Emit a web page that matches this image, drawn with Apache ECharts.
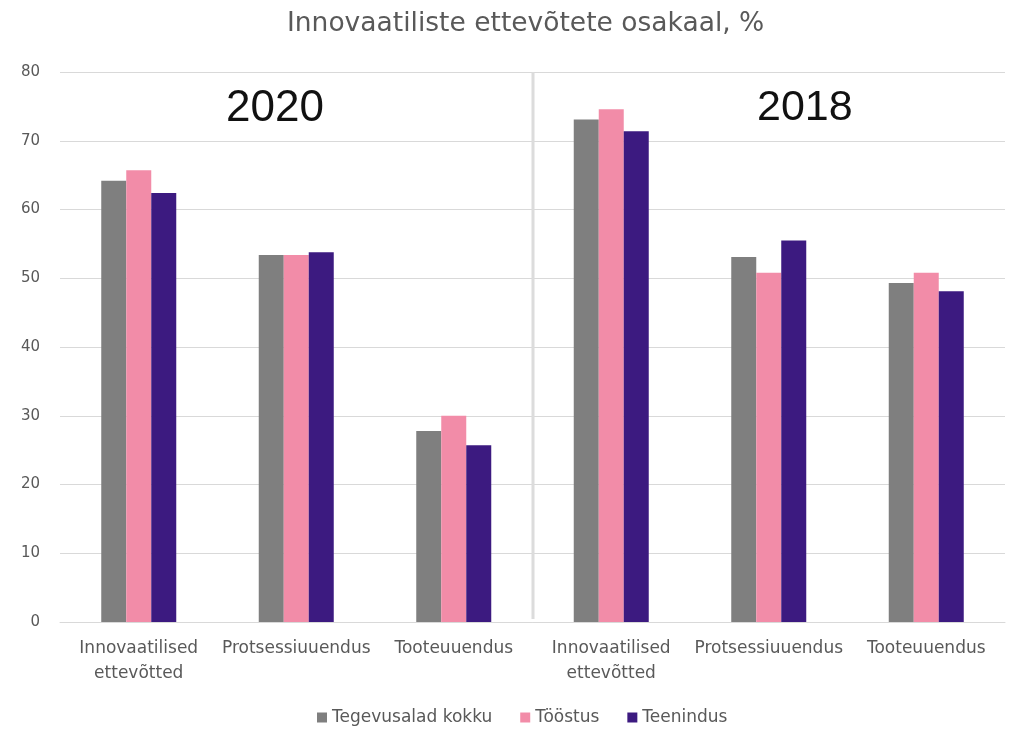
<!DOCTYPE html>
<html>
<head>
<meta charset="utf-8">
<script src="https://cdn.jsdelivr.net/npm/echarts@6/dist/echarts.min.js"></script>
<style>html,body{margin:0;padding:0;background:#fff}#c{width:1012px;height:734px}</style>
</head>
<body>
<div id="c"></div>
<script>
var categories = ['Innovaatilised\nettevõtted', 'Protsessiuuendus', 'Tooteuuendus', 'Innovaatilised\nettevõtted', 'Protsessiuuendus', 'Tooteuuendus'];
var seriesNames = ['Tegevusalad kokku', 'Tööstus', 'Teenindus'];
var kokku = [64.2, 53.4, 27.8, 73.1, 53.1, 49.3];
var toostus = [65.7, 53.4, 30.0, 74.6, 50.8, 50.8];
var teenindus = [62.4, 53.8, 25.7, 71.4, 55.5, 48.1];
var yTicks = [0, 10, 20, 30, 40, 50, 60, 70, 80];
var yearLabels = ['2020', '2018'];

var colors = ['#7f7f7f', '#f28ca8', '#3c1a80'];
var font = 'DejaVu Sans';
var chart = echarts.init(document.getElementById('c'));
chart.setOption({
  animation: false,
  backgroundColor: '#ffffff',
  title: {
    text: 'Innovaatiliste ettevõtete osakaal, %',
    left: 282, top: 6,
    textStyle: { fontFamily: font, fontSize: 26.5, fontWeight: 'normal', color: '#595959' }
  },
  legend: {
    bottom: 3, left: 312,
    itemWidth: 10, itemHeight: 10, itemGap: 28, icon: 'rect',
    textStyle: { fontFamily: font, fontSize: 17, color: '#595959' },
    data: seriesNames
  },
  grid: { left: 60, right: 7, top: 72, bottom: 112 },
  xAxis: {
    type: 'category', data: categories,
    axisLine: { lineStyle: { color: '#d9d9d9', width: 1 } },
    axisTick: { show: false },
    axisLabel: { fontFamily: font, fontSize: 17, color: '#595959', margin: 14, lineHeight: 25, interval: 0 },
    splitLine: { show: false }
  },
  yAxis: {
    type: 'value', min: yTicks[0], max: yTicks[yTicks.length - 1], interval: 10,
    axisLine: { show: false }, axisTick: { show: false },
    axisLabel: { fontFamily: font, fontSize: 15, color: '#595959', margin: 20 },
    splitLine: { lineStyle: { color: '#d9d9d9', width: 1 } }
  },
  series: [
    { name: seriesNames[0], type: 'bar', data: kokku, barWidth: 25, barGap: '0%', itemStyle: { color: colors[0] } },
    { name: seriesNames[1], type: 'bar', data: toostus, barWidth: 25, barGap: '0%', itemStyle: { color: colors[1] } },
    { name: seriesNames[2], type: 'bar', data: teenindus, barWidth: 25, barGap: '0%', itemStyle: { color: colors[2] } }
  ]
});
var xa = chart.convertToPixel({ xAxisIndex: 0 }, 2);
var xb = chart.convertToPixel({ xAxisIndex: 0 }, 3);
var sepX = Math.round((xa + xb) / 2);
var yTop = chart.convertToPixel({ yAxisIndex: 0 }, yTicks[yTicks.length - 1]);
var yBot = chart.convertToPixel({ yAxisIndex: 0 }, yTicks[0]);
chart.setOption({
  graphic: [
    { type: 'line', shape: { x1: sepX, y1: yTop, x2: sepX, y2: yBot - 3 }, style: { stroke: '#dcdcdc', lineWidth: 3 }, z: 1 },
    { type: 'text', left: 226, top: 87, style: { text: yearLabels[0], fontFamily: 'Liberation Sans', fontSize: 44, fill: '#111' } },
    { type: 'text', left: 757, top: 87, style: { text: yearLabels[1], fontFamily: 'Liberation Sans', fontSize: 43, fill: '#111' } }
  ]
});
</script>
</body>
</html>
